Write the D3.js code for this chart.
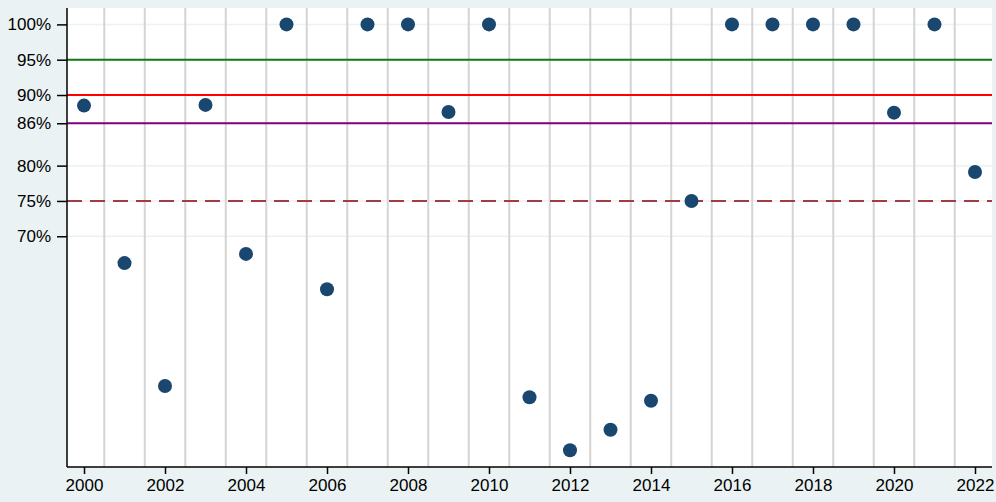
<!DOCTYPE html>
<html><head><meta charset="utf-8">
<script src="https://cdn.jsdelivr.net/npm/d3@7"></script>
<style>body{margin:0;background:#eaf2f3;}svg{display:block;}</style>
</head><body>
<svg id="c" width="996" height="502"></svg>
<script>
const years = d3.range(2000, 2023);
const values = [88.5, 66.2, 48.8, 88.6, 67.5, 100, 62.5, 100, 100, 87.6, 100, 47.2, 39.7, 42.6, 46.7, 75.0, 100, 100, 100, 100, 87.5, 100, 79.1];
const yTicks = [100, 95, 90, 86, 80, 75, 70];
const xTicks = d3.range(2000, 2023, 2);
const gridYears = d3.range(2000.5, 2022, 1);
const refLines = [
  {v: 95, color: "#117a11", dash: null},
  {v: 90, color: "#ff0000", dash: null},
  {v: 86, color: "#800080", dash: null},
  {v: 75, color: "#a03c44", dash: "15,8"}
];

const svg = d3.select("#c");
const L = 67, R = 992, T = 8, B = 467;
const x = d3.scaleLinear().domain([1999.58, 2022.42]).range([L, R]);
const y = d3.scaleLinear().domain([37.33, 102.32]).range([B, T]);

svg.append("rect").attr("x", L).attr("y", T).attr("width", R - L).attr("height", B - T).attr("fill", "#fff");

// horizontal light gridlines
svg.selectAll(".hg").data(yTicks).enter().append("line")
  .attr("x1", L).attr("x2", R).attr("y1", d => y(d)).attr("y2", d => y(d))
  .attr("stroke", "#eaf2f3").attr("stroke-width", 1.5);

// vertical separators
svg.selectAll(".vg").data(gridYears).enter().append("line")
  .attr("x1", d => x(d)).attr("x2", d => x(d)).attr("y1", T).attr("y2", B)
  .attr("stroke", "#d4d4d4").attr("stroke-width", 2);

// reference lines
svg.selectAll(".ref").data(refLines).enter().append("line")
  .attr("x1", L).attr("x2", R).attr("y1", d => y(d.v)).attr("y2", d => y(d.v))
  .attr("stroke", d => d.color).attr("stroke-width", 2)
  .attr("stroke-dasharray", d => d.dash);

// points
svg.selectAll(".pt").data(years.map((yr, i) => ({yr, v: values[i]}))).enter().append("circle")
  .attr("cx", d => x(d.yr)).attr("cy", d => y(d.v)).attr("r", 7)
  .attr("fill", "#1a476f");

// axes
const yAxis = d3.axisLeft(y).tickValues(yTicks).tickSize(10).tickPadding(6).tickFormat(d => d + "%");
const gy = svg.append("g").attr("transform", `translate(${L},0)`).call(yAxis);
const xAxis = d3.axisBottom(x).tickValues(xTicks).tickSize(7).tickPadding(5).tickFormat(d3.format("d"));
const gx = svg.append("g").attr("transform", `translate(0,${B})`).call(xAxis);
[gy, gx].forEach(g => {
  g.select(".domain").attr("stroke", "#000").attr("stroke-width", 1.5);
  g.selectAll(".tick line").attr("stroke", "#000").attr("stroke-width", 1.5);
  g.selectAll("text").attr("fill", "#000").style("font-family", "Liberation Sans, Arial, sans-serif").style("font-size", "17px");
});
gy.select(".domain").attr("d", `M-0,${T}V${B}`);
gx.select(".domain").attr("d", `M${L},0H${R}`);
</script>
</body></html>
